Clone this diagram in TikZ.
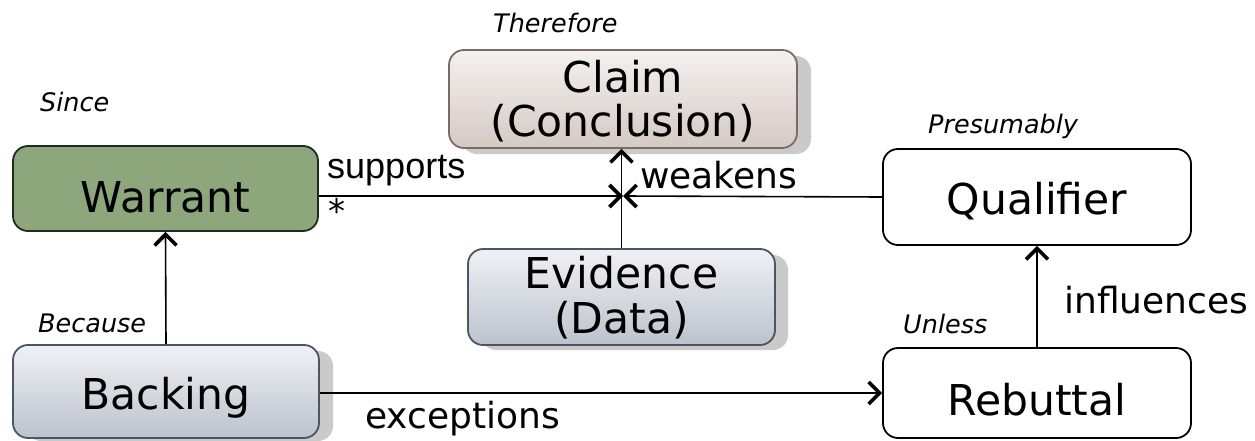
\documentclass[tikz,border=0pt]{standalone}
\usepackage{fontspec}
\setmainfont{DejaVu Sans}
\newfontfamily\arialf{Liberation Sans}
\usetikzlibrary{arrows.meta,calc}
\definecolor{warrantfill}{HTML}{8DA67C}
\definecolor{warrantdraw}{HTML}{1F2B1F}
\definecolor{claimtop}{HTML}{F4F1EF}
\definecolor{claimbot}{HTML}{D5C9C3}
\definecolor{claimdraw}{HTML}{7D6B63}
\definecolor{greytop}{HTML}{EFF1F4}
\definecolor{greybot}{HTML}{BCC3CD}
\definecolor{greydraw}{HTML}{4B5563}
\definecolor{shadowc}{HTML}{CACACA}
\begin{document}
\begin{tikzpicture}[x=1pt,y=-1pt,
  box/.style={rounded corners=15pt, line width=1.8pt, inner sep=0pt, font=\fontsize{42.5}{44}\selectfont},
  whitebox/.style={box, draw=black, fill=white},
  greybox/.style={box, draw=greydraw, top color=greytop, bottom color=greybot},
  claimbox/.style={box, draw=claimdraw, top color=claimtop, bottom color=claimbot},
  warrantbox/.style={box, draw=warrantdraw, fill=warrantfill},
  boxtext/.style={anchor=base, inner sep=0pt, font=\fontsize{42.5}{44}\selectfont},
  cue/.style={anchor=base west, inner sep=0pt, font=\fontsize{25.5}{28}\selectfont\itshape},
  rel/.style={anchor=base west, inner sep=0pt, font=\fontsize{36}{40}\selectfont},
  conn/.style={line width=1.6pt, -{Straight Barb[length=11pt,width=22pt,line width=3.6pt 0 1]}},
  shadowbox/.style={fill=shadowc, rounded corners=15pt}
]
\useasboundingbox (0,0) rectangle (1255,441);

% shadows
\fill[shadowbox] (462,56) rectangle (811,154);
\fill[shadowbox] (481,255) rectangle (788,350);
\fill[shadowbox] (26,351) rectangle (333,441);

% boxes
\node[claimbox, minimum width=348pt, minimum height=98pt] (Claim) at (623,99) {};
\node[boxtext] (ClaimA) at (623,93) {Claim};
\node[boxtext] (ClaimB) at (623,137) {(Conclusion)};

\node[warrantbox, minimum width=305pt, minimum height=85pt, text height=47pt, text depth=0pt] (Warrant) at (165.5,188.5) {Warrant};

\node[greybox, minimum width=307pt, minimum height=96pt] (Evidence) at (621.5,297) {};
\node[boxtext] (EvidA) at (621.5,288) {Evidence};
\node[boxtext] (EvidB) at (621.5,333) {(Data)};

\node[greybox, minimum width=306pt, minimum height=93pt, text height=35pt, text depth=0pt] (Backing) at (166,391.5) {Backing};

\node[whitebox, minimum width=308pt, minimum height=96pt, text height=34pt, text depth=0pt] (Qualifier) at (1037,197) {Qualifier};

\node[whitebox, minimum width=308pt, minimum height=90pt, text height=44pt, text depth=0pt] (Rebuttal) at (1037,393) {Rebuttal};

% cue words
\node[cue] (therefore) at (493,33) {Therefore};
\node[cue] (since) at (40,112) {Since};
\node[cue] (presumably) at (928,133) {Presumably};
\node[cue] (because) at (38,332) {Because};
\node[cue] (unless) at (903,333) {Unless};

% junction
\coordinate (J) at (623,196);

% connectors
\draw[conn] (Warrant.east |- J) -- (J);
\draw[conn] (Qualifier.west) -- (J);
\draw[conn] (Evidence.north) -- (Evidence.north |- Claim.south);
\draw[conn] (Backing.north) -- (Warrant.south);
\draw[conn] (Rebuttal.north) -- (Qualifier.south);
\draw[conn] (Backing.east |- Rebuttal.west) -- (Rebuttal.west);

% relation labels
\node[rel, font=\fontsize{36}{40}\selectfont\arialf] (supports) at (327,178) {supports};
\node[anchor=north west, inner sep=0pt, font=\fontsize{34}{40}\selectfont] (star) at (328,198) {*};
\node[rel] (weakens) at (640,188) {weakens};
\node[rel] (influences) at (1064,313) {influences};
\node[rel] (exceptions) at (365,428) {exceptions};
\end{tikzpicture}
\end{document}
